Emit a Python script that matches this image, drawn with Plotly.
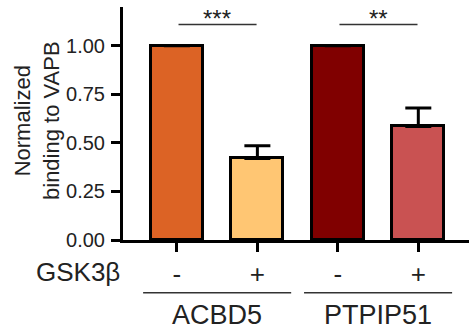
import plotly.graph_objects as go

categories = [0, 1, 2, 3]
treatment_labels = ["-", "+", "-", "+"]
values = [1.00, 0.42, 1.00, 0.585]
errors_up = [0.0, 0.065, 0.0, 0.095]
bar_colors = ["#DC6325", "#FFC673", "#800000", "#C95252"]
groups = ["ACBD5", "PTPIP51"]
group_centers = [0.5, 2.5]
sig_pairs = [(0, 1, "***"), (2, 3, "**")]
sig_y = 1.11
y_ticks = [0, 0.25, 0.5, 0.75, 1.0]
y_ticktext = ["0.00", "0.25", "0.50", "0.75", "1.00"]

FONT = "Liberation Sans, Arial, sans-serif"
TXT = "#222222"

fig = go.Figure()
fig.add_trace(go.Bar(
    x=categories, y=values, width=0.645,
    marker=dict(color=bar_colors, line=dict(color="black", width=3)),
    error_y=dict(type="data", array=errors_up, arrayminus=[0]*4, symmetric=False,
                 color="black", thickness=3, width=13),
    showlegend=False,
))

shapes = []
annotations = []
for a, b, stars in sig_pairs:
    shapes.append(dict(type="line", xref="x", yref="y", x0=a + 0.02, x1=b - 0.01,
                       y0=sig_y, y1=sig_y, line=dict(color="#333333", width=1.5)))
    annotations.append(dict(x=(a + b) / 2, y=sig_y, xref="x", yref="y", text=stars,
                            showarrow=False, yanchor="bottom", yshift=-10,
                            font=dict(family=FONT, size=24, color=TXT)))
for c, g in zip(group_centers, groups):
    shapes.append(dict(type="line", xref="x", yref="paper", x0=c - 0.92, x1=c + 0.92,
                       y0=-0.226, y1=-0.226, line=dict(color="#333333", width=1.5)))
    annotations.append(dict(x=c, y=-0.322, xref="x", yref="paper", text=g,
                            showarrow=False, yanchor="middle",
                            font=dict(family=FONT, size=27, color=TXT)))
annotations.append(dict(x=-0.003, y=-0.137, xref="paper", yref="paper", text="GSK3β",
                        showarrow=False, xanchor="right", yanchor="middle",
                        font=dict(family=FONT, size=26, color=TXT)))
annotations.append(dict(x=-0.2486, y=0.515, xref="paper", yref="paper",
                        text="Normalized<br>binding to VAPB", textangle=-90,
                        showarrow=False, xanchor="center", yanchor="middle",
                        font=dict(family=FONT, size=22, color=TXT)))

fig.update_layout(
    width=469, height=336,
    margin=dict(l=123, r=0, t=7, b=96),
    plot_bgcolor="white", paper_bgcolor="white",
    font=dict(family=FONT, color=TXT),
    shapes=shapes, annotations=annotations,
    bargap=0,
)
fig.update_xaxes(
    range=[-0.67, 3.63], tickvals=categories, ticktext=treatment_labels,
    showline=True, linecolor="black", linewidth=3,
    ticks="outside", ticklen=9, tickwidth=3, tickcolor="black",
    tickfont=dict(family=FONT, size=26, color=TXT), ticklabelstandoff=0,
    showgrid=False, zeroline=False, automargin=False,
)
fig.update_yaxes(
    range=[0, 1.2], tickvals=y_ticks, ticktext=y_ticktext,
    showline=True, linecolor="black", linewidth=3,
    ticks="outside", ticklen=9, tickwidth=3, tickcolor="black",
    tickfont=dict(family=FONT, size=20, color=TXT), ticklabelstandoff=2,
    showgrid=False, zeroline=False, automargin=False,
)
fig.write_html("out.html", config={"displayModeBar": False},
               post_script="document.body.style.margin='0';")
